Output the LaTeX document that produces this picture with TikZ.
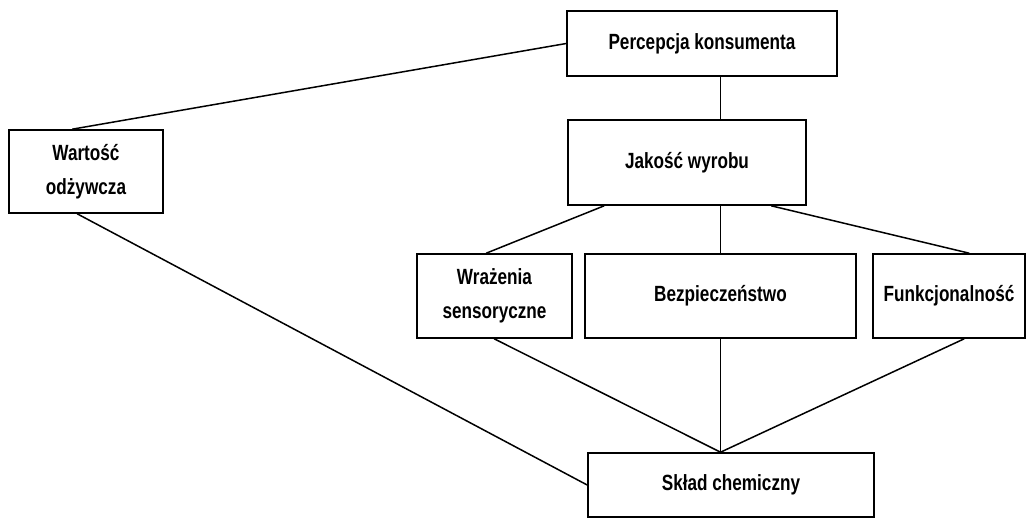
\documentclass[tikz,border=0pt]{standalone}
\usepackage{fontspec}
\setmainfont{Liberation Sans}[FakeStretch=0.78]
\usetikzlibrary{calc}
\begin{document}
\begin{tikzpicture}[x=1pt,y=-1pt,
  box/.style={draw, line width=1.6pt, rectangle, inner sep=0pt, align=center,
              font=\fontsize{22}{34}\selectfont\bfseries},
  conn/.style={line width=1.5pt}]
\useasboundingbox[fill=white] (0,0) rectangle (1034,519);
\node[box, minimum width=270pt, minimum height=65pt] (perc) at (702,43.5) {Percepcja konsumenta};
\node[box, minimum width=238pt, minimum height=85pt] (jak) at (687,162.5) {Jakość wyrobu};
\node[box, minimum width=154pt, minimum height=83pt] (wart) at (86,171.5) {Wartość\\odżywcza};
\node[box, minimum width=155pt, minimum height=84pt] (wraz) at (494.5,296) {Wrażenia\\sensoryczne};
\node[box, minimum width=271pt, minimum height=84pt] (bez) at (720.5,296) {Bezpieczeństwo};
\node[box, minimum width=152pt, minimum height=84pt] (funk) at (949,296) {Funkcjonalność};
\node[box, minimum width=286pt, minimum height=64pt] (sklad) at (731,485) {Skład chemiczny};
\coordinate (sk) at (sklad.north -| bez.south);
% connectors
\draw[conn] ($(wart.north west)+(64,0)$) -- (perc.west);
\draw[conn] ($(wart.south west)+(69,0)$) -- (sklad.west);
\draw[conn] (perc.south -| bez.north) -- (jak.north -| bez.north);
\draw[conn] ($(jak.south west)+(37,0)$) -- ($(wraz.north west)+(70,0)$);
\draw[conn] (jak.south -| bez.north) -- (bez.north);
\draw[conn] ($(jak.south west)+(204,0)$) -- ($(funk.north west)+(97,0)$);
\draw[conn] ($(wraz.south west)+(78,0)$) -- (sk);
\draw[conn] (bez.south) -- (sk);
\draw[conn] ($(funk.south west)+(92,0)$) -- (sk);
\end{tikzpicture}
\end{document}
